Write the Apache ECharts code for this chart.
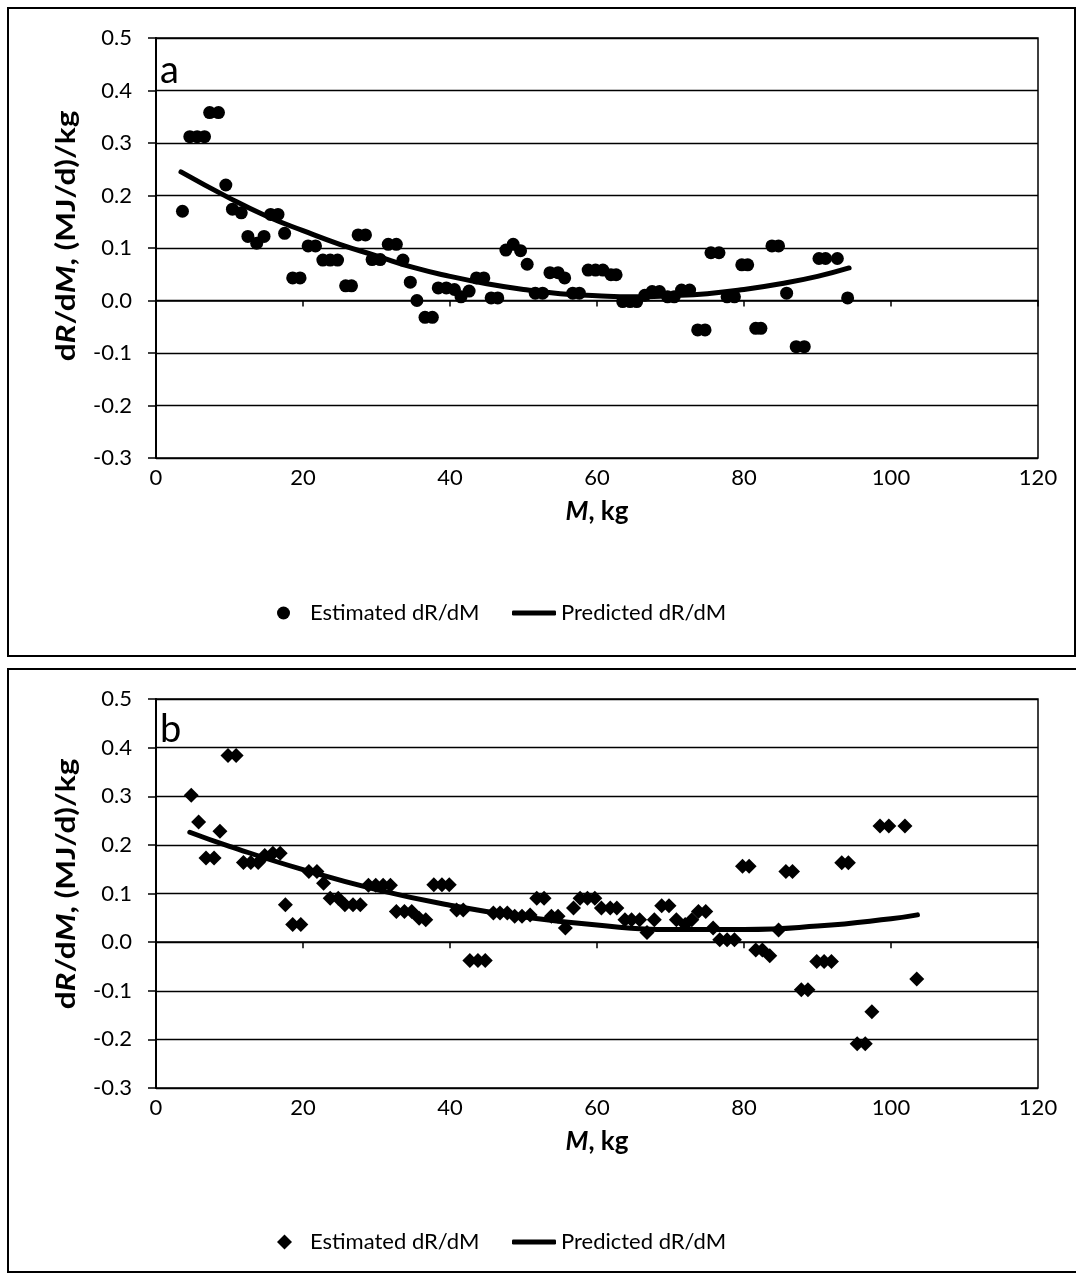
<!DOCTYPE html>
<html>
<head>
<meta charset="utf-8">
<script src="https://cdn.jsdelivr.net/npm/echarts@6/dist/echarts.min.js"></script>
<style>
  html, body { margin: 0; padding: 0; background: #fff; }
  #chart { width: 1076px; height: 1279px; }
</style>
</head>
<body>
<div id="chart"></div>
<script>
// Panel a: body mass (kg) and estimated marginal energy requirement
const massA = [3.6, 4.6, 5.6, 6.6, 7.3, 8.5, 9.5, 10.4, 11.6, 12.5, 13.7, 14.7, 15.6, 16.6, 17.5,
  18.6, 19.6, 20.7, 21.7, 22.7, 23.7, 24.7, 25.8, 26.6, 27.5, 28.5, 29.4, 30.5, 31.6, 32.7,
  33.6, 34.6, 35.5, 36.6, 37.6, 38.4, 39.5, 40.6, 41.5, 42.6, 43.6, 44.6, 45.6, 46.5, 47.6,
  48.6, 49.6, 50.5, 51.6, 52.6, 53.6, 54.7, 55.6, 56.7, 57.6, 58.8, 59.8, 60.8, 61.9, 62.6,
  63.5, 64.5, 65.4, 66.5, 67.5, 68.5, 69.6, 70.5, 71.5, 72.6, 73.7, 74.7, 75.5, 76.6, 77.7,
  78.7, 79.7, 80.5, 81.6, 82.3, 83.8, 84.7, 85.8, 87.1, 88.2, 90.2, 91.1, 92.7, 94.1];
const estA = [0.170, 0.312, 0.312, 0.312, 0.358, 0.358, 0.220, 0.174, 0.167, 0.122, 0.109, 0.122, 0.164, 0.164, 0.128,
  0.043, 0.043, 0.104, 0.104, 0.077, 0.077, 0.077, 0.028, 0.028, 0.125, 0.125, 0.078, 0.078, 0.107, 0.107,
  0.077, 0.035, 0.000, -0.032, -0.032, 0.024, 0.024, 0.021, 0.007, 0.018, 0.043, 0.043, 0.005, 0.005, 0.096,
  0.107, 0.095, 0.069, 0.014, 0.014, 0.053, 0.053, 0.043, 0.014, 0.014, 0.058, 0.058, 0.058, 0.049, 0.049,
  -0.002, -0.002, -0.002, 0.010, 0.017, 0.017, 0.007, 0.007, 0.020, 0.020, -0.056, -0.056, 0.091, 0.091, 0.007,
  0.007, 0.068, 0.068, -0.053, -0.053, 0.104, 0.104, 0.014, -0.088, -0.088, 0.080, 0.080, 0.080, 0.005];
// Panel a: predicted curve, read at regular masses
const predMassA = [3.4, 10, 15, 20, 25, 30, 35, 40, 45, 50, 55, 60, 65, 70, 75, 80, 85, 90, 94.3];
const predA = [0.245, 0.195, 0.161, 0.133, 0.107, 0.085, 0.063, 0.046, 0.032, 0.021, 0.013, 0.009, 0.007, 0.009, 0.013, 0.021, 0.032, 0.046, 0.062];

// Panel b
const massB = [4.8, 5.8, 6.8, 7.9, 8.7, 9.8, 10.9, 11.9, 12.9, 13.9, 14.8, 15.9, 16.9, 17.6, 18.6,
  19.7, 20.8, 21.9, 22.8, 23.7, 24.8, 25.7, 26.8, 27.8, 28.9, 29.9, 30.9, 31.9, 32.7, 33.8,
  34.8, 35.8, 36.7, 37.8, 38.9, 39.9, 40.9, 41.8, 42.7, 43.8, 44.8, 45.9, 46.8, 47.8, 48.8,
  49.8, 50.9, 51.8, 52.8, 53.8, 54.7, 55.7, 56.8, 57.7, 58.7, 59.7, 60.6, 61.8, 62.7, 63.8,
  64.7, 65.8, 66.8, 67.8, 68.8, 69.8, 70.8, 72.0, 72.9, 73.8, 74.8, 75.8, 76.7, 77.7, 78.7,
  79.8, 80.7, 81.6, 82.5, 83.5, 84.7, 85.7, 86.6, 87.8, 88.7, 89.9, 90.9, 91.9, 93.3, 94.2,
  95.4, 96.5, 97.4, 98.5, 99.7, 101.9, 103.5];
const estB = [0.302, 0.247, 0.173, 0.173, 0.228, 0.384, 0.384, 0.164, 0.164, 0.164, 0.178, 0.183, 0.183, 0.077, 0.036,
  0.036, 0.145, 0.145, 0.121, 0.090, 0.090, 0.077, 0.077, 0.077, 0.117, 0.117, 0.117, 0.117, 0.063, 0.063,
  0.063, 0.049, 0.046, 0.118, 0.118, 0.118, 0.066, 0.066, -0.038, -0.038, -0.038, 0.060, 0.060, 0.060, 0.053,
  0.053, 0.056, 0.090, 0.090, 0.053, 0.053, 0.029, 0.070, 0.090, 0.090, 0.090, 0.070, 0.070, 0.070, 0.046,
  0.046, 0.046, 0.020, 0.046, 0.075, 0.075, 0.046, 0.036, 0.046, 0.063, 0.063, 0.029, 0.005, 0.005, 0.005,
  0.156, 0.156, -0.016, -0.016, -0.028, 0.025, 0.145, 0.145, -0.098, -0.098, -0.040, -0.040, -0.040, 0.163, 0.163,
  -0.209, -0.209, -0.143, 0.239, 0.239, 0.239, -0.076];
const predMassB = [4.6, 10, 20, 30, 40, 50, 60, 70, 80, 90, 100, 103.6];
const predB = [0.226, 0.197, 0.149, 0.108, 0.076, 0.052, 0.035, 0.026, 0.026, 0.033, 0.048, 0.056];

const xTicks = { min: 0, max: 120, interval: 20 };
const yTicks = { min: -0.3, max: 0.5, interval: 0.1 };
const panelLetters = ['a', 'b'];
const nameEst = 'Estimated dR/dM';
const namePred = 'Predicted dR/dM';

const FONT = 'Lato';
const pairs = (xs, ys) => xs.map((x, i) => [x, ys[i]]);

const grids = [
  { left: 156, top: 38, width: 882, height: 420 },
  { left: 156, top: 699, width: 882, height: 389 }
];

function xAxisFor(i) {
  return {
    type: 'value', gridIndex: i, min: xTicks.min, max: xTicks.max, interval: xTicks.interval,
    axisLine: { show: true, lineStyle: { color: '#000', width: 1.5 } },
    axisTick: { show: true, inside: false, length: 6, lineStyle: { color: '#000', width: 1.5 } },
    splitLine: { show: false },
    axisLabel: { color: '#000', fontFamily: FONT, fontSize: 22, margin: 9 },
    name: '{i|M}{b|, kg}', nameLocation: 'middle', nameGap: 41,
    nameTextStyle: {
      rich: {
        i: { fontFamily: FONT, fontSize: 26, fontWeight: 'bold', fontStyle: 'italic', color: '#000' },
        b: { fontFamily: FONT, fontSize: 26, fontWeight: 'bold', color: '#000' }
      }
    }
  };
}

function yAxisFor(i) {
  return {
    type: 'value', gridIndex: i, min: yTicks.min, max: yTicks.max, interval: yTicks.interval,
    axisLine: { show: true, onZero: false, lineStyle: { color: '#000', width: 2 } },
    axisTick: { show: true, inside: false, length: 8, lineStyle: { color: '#000', width: 1.5 } },
    splitLine: { show: true, lineStyle: { color: '#000', width: 1.3 } },
    axisLabel: { color: '#000', fontFamily: FONT, fontSize: 22, margin: 24,
      formatter: v => v.toFixed(1) }
  };
}

// Rotated y-axis title, with R and M set in italics
const yTitleRich = {
  i: { fontFamily: FONT, fontSize: 27, fontWeight: 'bold', fontStyle: 'italic', fill: '#000' },
  b: { fontFamily: FONT, fontSize: 27, fontWeight: 'bold', fill: '#000' }
};
function yTitle(cx, cy) {
  return {
    type: 'text', x: cx, y: cy, rotation: Math.PI / 2, scaleX: 1.17, silent: true,
    style: {
      text: '{b|d}{i|R}{b|/d}{i|M}{b|, (MJ/d)/kg}', rich: yTitleRich,
      fontFamily: FONT, fontSize: 27, fontWeight: 'bold', fill: '#000',
      align: 'center', verticalAlign: 'middle'
    }
  };
}

const lineStyle = { color: '#000', width: 5, cap: 'round' };
const legendText = pad => ({ fontFamily: FONT, fontSize: 22, color: '#000', padding: [0, 0, 0, pad] });

const option = {
  animation: false,
  backgroundColor: '#fff',
  textStyle: { fontFamily: FONT },
  grid: grids.map(g => Object.assign({ show: true, borderColor: '#000', borderWidth: 1.5, backgroundColor: 'transparent' }, g)),
  xAxis: [xAxisFor(0), xAxisFor(1)],
  yAxis: [yAxisFor(0), yAxisFor(1)],
  title: [
    { text: panelLetters[0], left: 160, top: 52, textStyle: { fontFamily: FONT, fontSize: 38, fontWeight: 'normal', color: '#000' }, padding: 0 },
    { text: panelLetters[1], left: 160, top: 711, textStyle: { fontFamily: FONT, fontSize: 38, fontWeight: 'normal', color: '#000' }, padding: 0 }
  ],
  legend: [
    { data: [{ name: nameEst, icon: 'circle' }], left: 277, top: 602, padding: 0, itemWidth: 13, itemHeight: 13,
      textStyle: legendText(15), selectedMode: false },
    { data: [{ name: namePred, icon: 'roundRect' }], left: 512, top: 602, padding: 0, itemWidth: 44, itemHeight: 5,
      textStyle: legendText(0), selectedMode: false, itemStyle: { color: '#000' } },
    { data: [{ name: nameEst, icon: 'diamond' }], left: 277, top: 1231, padding: 0, itemWidth: 15, itemHeight: 15,
      textStyle: legendText(13), selectedMode: false },
    { data: [{ name: namePred, icon: 'roundRect' }], left: 512, top: 1231, padding: 0, itemWidth: 44, itemHeight: 5,
      textStyle: legendText(0), selectedMode: false, itemStyle: { color: '#000' } }
  ],
  graphic: [
    { type: 'rect', shape: { x: 8, y: 8, width: 1067, height: 648 }, style: { fill: 'none', stroke: '#000', lineWidth: 2 }, silent: true },
    { type: 'rect', shape: { x: 8, y: 669, width: 1100, height: 603 }, style: { fill: 'none', stroke: '#000', lineWidth: 2 }, silent: true },
    yTitle(66, 236),
    yTitle(66, 884)
  ],
  series: [
    { name: nameEst, type: 'scatter', xAxisIndex: 0, yAxisIndex: 0, symbol: 'circle', symbolSize: 13,
      itemStyle: { color: '#000', opacity: 1 }, data: pairs(massA, estA), z: 3 },
    { name: namePred, type: 'line', xAxisIndex: 0, yAxisIndex: 0, symbol: 'none', smooth: true,
      lineStyle: lineStyle, itemStyle: { color: '#000' }, data: pairs(predMassA, predA), z: 4 },
    { name: nameEst, type: 'scatter', xAxisIndex: 1, yAxisIndex: 1, symbol: 'diamond', symbolSize: 15,
      itemStyle: { color: '#000', opacity: 1 }, data: pairs(massB, estB), z: 3 },
    { name: namePred, type: 'line', xAxisIndex: 1, yAxisIndex: 1, symbol: 'none', smooth: true,
      lineStyle: lineStyle, itemStyle: { color: '#000' }, data: pairs(predMassB, predB), z: 4 }
  ]
};

const chart = echarts.init(document.getElementById('chart'), null, { renderer: 'canvas' });
chart.setOption(option);
</script>
</body>
</html>
